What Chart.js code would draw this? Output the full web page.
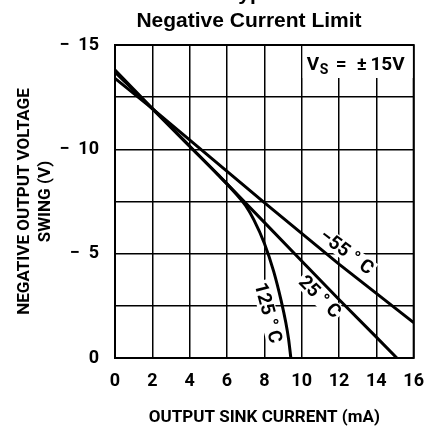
<!DOCTYPE html>
<html><head><meta charset="utf-8">
<script src="https://cdn.jsdelivr.net/npm/chart.js@4"></script>
<style>
html,body{margin:0;padding:0;background:#fff;overflow:hidden;}
#wrap{position:relative;width:437px;height:429px;}
canvas{position:absolute;left:0;top:0;}
</style></head><body>
<div id="wrap"><canvas id="c" width="437" height="429"></canvas></div>
<script>
// ---- data ----
const titleLines = ["Typical Performance Characteristics", "Negative Current Limit"];
const xAxisTitle = "OUTPUT SINK CURRENT (mA)";
const yAxisTitle = ["NEGATIVE OUTPUT VOLTAGE", "SWING (V)"];
const supplyLabel = ["V", "S", "=", "\u00B1", "15V"];
const seriesNames = ["\u221255 \u00B0 C", "25 \u00B0 C", "125 \u00B0 C"];
const xTicks = [0, 2, 4, 6, 8, 10, 12, 14, 16];
const yTicks = [-15, -10, -5, 0];

const xM55 = [0, 2, 5, 8, 12, 16];
const yM55 = [-13.4, -11.95, -9.7, -7.45, -4.5, -1.7];

const x25 = [0, 2, 4, 6, 8, 10, 12, 14, 15.1];
const y25 = [-13.8, -11.95, -10.15, -8.35, -6.5, -4.65, -2.8, -1.0, 0];

const x125 = [0, 2, 4, 5.5, 6.5, 7.0, 7.44, 8.0, 8.5, 8.9, 9.15, 9.3, 9.42];
const y125 = [-13.7, -11.95, -10.15, -8.8, -7.85, -7.3, -6.62, -5.5, -4.15, -2.75, -1.7, -0.9, 0];

const pts = (xs, ys) => xs.map((x, i) => ({x: x, y: ys[i]}));
const FAM = 'Roboto, "Liberation Sans", sans-serif';

const fmtY = v => v === 0 ? "0" : "\u2212  " + Math.abs(v);

const decor = {
  id: 'decor',
  afterDraw(chart) {
    const ctx = chart.ctx;
    const xs = chart.scales.x, ys = chart.scales.y;
    const a = chart.chartArea;
    ctx.save();
    // frame
    ctx.strokeStyle = '#000';
    ctx.lineWidth = 2;
    ctx.strokeRect(a.left, a.top, a.right - a.left, a.bottom - a.top);

    // titles
    ctx.fillStyle = '#000';
    ctx.font = 'bold 21px "Liberation Sans", Arial, sans-serif';
    ctx.textBaseline = 'alphabetic';
    ctx.textAlign = 'left';
    ctx.fillText(titleLines[0], 227, 0);
    ctx.textAlign = 'center';
    ctx.fillText(titleLines[1], 249, 27);

    // supply label box
    ctx.fillStyle = '#fff';
    ctx.fillRect(a.right - 111, a.top + 1, 110, 32);
    ctx.fillStyle = '#000';
    const big = 'bold 19px ' + FAM, small = 'bold 14px ' + FAM;
    const by = a.top + 25;
    ctx.textAlign = 'left';
    ctx.font = big;
    ctx.fillText(supplyLabel[0], a.right - 107, by);
    ctx.font = small;
    ctx.fillText(supplyLabel[1], a.right - 94, by + 4);
    ctx.font = big;
    ctx.fillText(supplyLabel[2], a.right - 78, by);
    ctx.fillText(supplyLabel[3], a.right - 57, by);
    ctx.textAlign = 'right';
    ctx.fillText(supplyLabel[4], a.right - 9, by);

    // curve labels (anchored in data coordinates)
    const labs = [
      {t: seriesNames[0], x: 12.41, y: -5.08, rot: 37},
      {t: seriesNames[1], x: 10.97, y: -2.93, rot: 45},
      {t: seriesNames[2], x: 8.2, y: -2.16, rot: 75}
    ];
    ctx.font = 'bold 19px ' + FAM;
    ctx.textAlign = 'center';
    ctx.textBaseline = 'middle';
    labs.forEach(l => {
      const px = xs.getPixelForValue(l.x), py = ys.getPixelForValue(l.y);
      ctx.save();
      ctx.translate(px, py);
      ctx.rotate(l.rot * Math.PI / 180);
      const w = ctx.measureText(l.t).width;
      ctx.fillStyle = '#fff';
      ctx.fillRect(-w / 2 - 2, -9, w + 4, 18);
      ctx.fillStyle = '#000';
      ctx.fillText(l.t, 0, 1);
      ctx.restore();
    });
    ctx.restore();
  }
};

new Chart(document.getElementById('c'), {
  type: 'line',
  data: {
    datasets: [
      {label: seriesNames[0], data: pts(xM55, yM55), borderColor: '#000', borderWidth: 3, pointRadius: 0, tension: 0},
      {label: seriesNames[1], data: pts(x25, y25), borderColor: '#000', borderWidth: 3, pointRadius: 0, tension: 0},
      {label: seriesNames[2], data: pts(x125, y125), borderColor: '#000', borderWidth: 3, pointRadius: 0, cubicInterpolationMode: 'monotone'}
    ]
  },
  options: {
    responsive: false,
    animation: false,
    events: [],
    layout: {padding: {top: 45, right: 10, left: 0, bottom: 0}},
    plugins: {legend: {display: false}, tooltip: {enabled: false}, title: {display: false}},
    scales: {
      x: {
        type: 'linear', min: 0, max: 16,
        afterFit: s => { s.height = 71; },
        afterBuildTicks: s => { s.ticks = xTicks.map(v => ({value: v})); },
        grid: {color: '#000', lineWidth: 1.5, drawTicks: false},
        border: {display: false},
        ticks: {color: '#000', padding: 13, font: {family: FAM, size: 18, weight: 'bold'}, callback: v => String(v)},
        title: {display: true, text: xAxisTitle, color: '#000', padding: {top: 0, bottom: 1}, font: {family: FAM, size: 17, weight: 'bold'}}
      },
      y: {
        type: 'linear', min: -15, max: 0, reverse: true,
        afterFit: s => { s.width = 115; },
        ticks: {stepSize: 2.5, color: '#000', padding: 16, font: {family: FAM, size: 18, weight: 'bold'},
          callback: v => yTicks.includes(v) ? fmtY(v) : ''},
        grid: {color: '#000', lineWidth: 1.5, drawTicks: false},
        border: {display: false},
        title: {display: true, text: yAxisTitle, color: '#000', padding: {top: 15, bottom: 0}, font: {family: FAM, size: 17, weight: 'bold'}}
      }
    }
  },
  plugins: [decor]
});
</script>
</body></html>
